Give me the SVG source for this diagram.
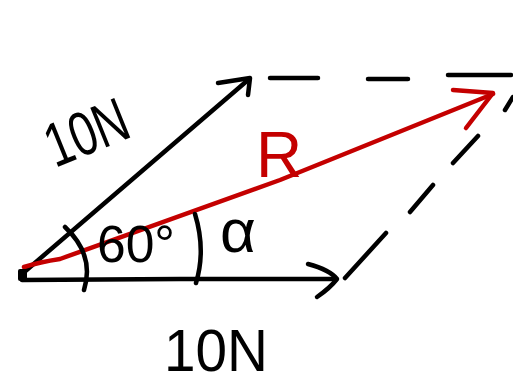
<svg xmlns="http://www.w3.org/2000/svg" width="513" height="385" viewBox="0 0 513 385">
<style>
.k{fill:none;stroke:#000;stroke-width:4.5;stroke-linecap:round;stroke-linejoin:round}
.r{fill:none;stroke:#c40000;stroke-width:4.5;stroke-linecap:round;stroke-linejoin:round}
.t{font-family:"Liberation Sans","DejaVu Sans",sans-serif;fill:#000}
</style>
<rect width="513" height="385" fill="#fff"/>
<g id="connectors">
<g id="vec-upper">
<path class="k" d="M22 274 L248 80"/>
<path class="k" d="M218 83 L250 78 L248 95"/>
</g>
<g id="vec-lower">
<path class="k" d="M22 280 L180 279 L335 279"/>
<path class="k" d="M308 264 Q330 270 337 279 Q330 288 317 297"/>
</g>
<g id="dashed-top">
<path class="k" d="M270 78 L318 78 M368 79 L408 79 M448 75 L511 75"/>
</g>
<g id="dashed-right">
<path class="k" d="M345 278 L386 233 M410 212 L433 185 M453 163 L478 136 M505 110 L513 97"/>
</g>
<g id="vec-R">
<path class="r" d="M24 267 Q40 262 60 259 L280 180 L493 94"/>
<path class="r" d="M453 90 L493 93 L466 128"/>
</g>
<g id="arcs">
<path class="k" d="M65 227 Q95 255 84 290"/>
<path class="k" d="M195 214 Q206 250 196 283"/>
</g>
<rect x="18" y="269" width="9" height="12" rx="2" fill="#000"/>
</g>
<g id="label-10N-top">
<text class="t" x="55" y="168" font-size="62" textLength="85" lengthAdjust="spacingAndGlyphs" transform="rotate(-22 55 168)">10N</text>
</g>
<g id="label-10N-bottom">
<text class="t" x="164" y="371" font-size="60" textLength="104" lengthAdjust="spacingAndGlyphs">10N</text>
</g>
<g id="label-R">
<text class="t" x="256" y="177" font-size="64" style="fill:#c40000">R</text>
</g>
<g id="label-60">
<text class="t" x="97" y="262" font-size="52" textLength="78" lengthAdjust="spacingAndGlyphs">60°</text>
</g>
<g id="label-alpha">
<text class="t" x="220" y="252" font-size="62">α</text>
</g>
</svg>
